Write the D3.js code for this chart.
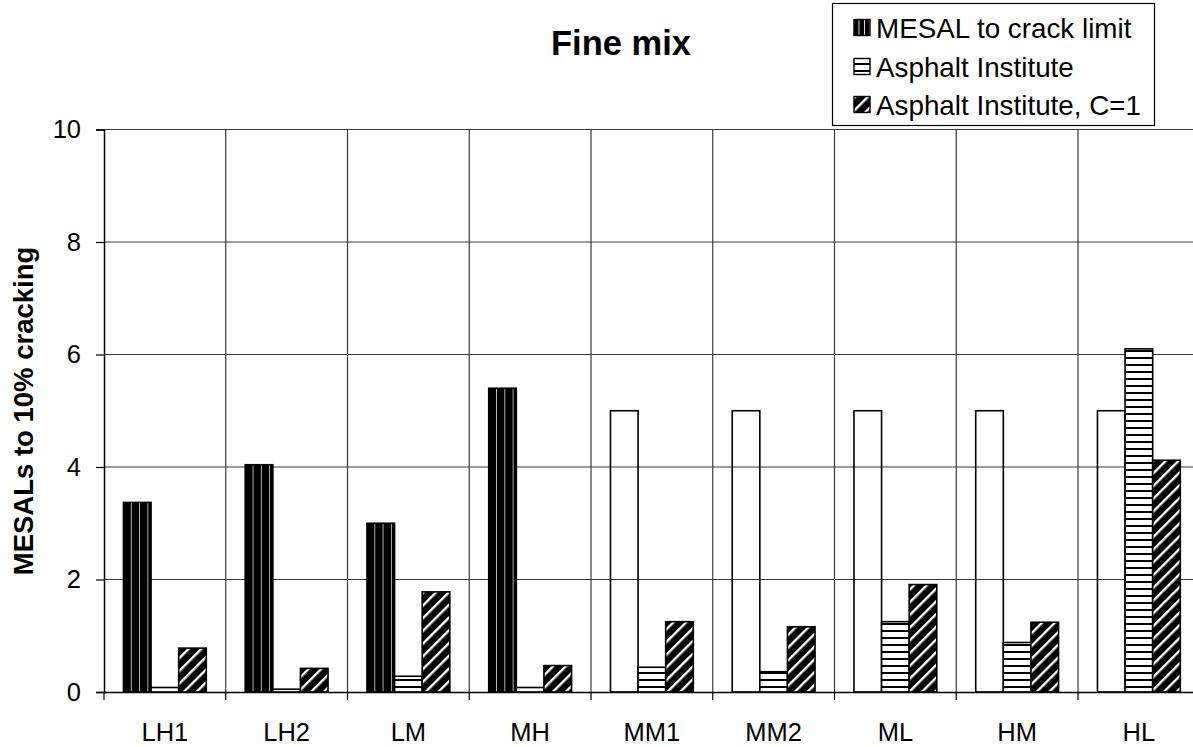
<!DOCTYPE html>
<html>
<head>
<meta charset="utf-8">
<script src="https://cdn.jsdelivr.net/npm/d3@7"></script>
<style>
  html, body { margin: 0; padding: 0; background: #fff; }
  svg { display: block; font-family: "Liberation Sans", Arial, sans-serif; }
</style>
</head>
<body>
<svg id="chart" width="1193" height="747"></svg>
<script>
// ---- data ----
const categories = ["LH1", "LH2", "LM", "MH", "MM1", "MM2", "ML", "HM", "HL"];
const mesalToCrack = [3.37, 4.04, 3.0, 5.4, null, null, null, null, null];
const mesalAssumed = [null, null, null, null, 5, 5, 5, 5, 5];
const asphaltInstitute = [0.08, 0.05, 0.28, 0.08, 0.44, 0.36, 1.25, 0.88, 6.1];
const asphaltInstituteC1 = [0.78, 0.42, 1.78, 0.47, 1.25, 1.16, 1.91, 1.24, 4.12];
const yTicks = [0, 2, 4, 6, 8, 10];
const seriesNames = ["MESAL to crack limit", "Asphalt Institute", "Asphalt Institute, C=1"];
const titleText = "Fine mix";
const yTitleText = "MESALs to 10% cracking";

// ---- layout ----
const svg = d3.select("#chart");
const plot = { left: 104, top: 129.5, bottom: 692 };
const bandW = 121.75;
plot.right = plot.left + bandW * categories.length;

const x = d3.scaleBand().domain(categories).range([plot.left, plot.right]).padding(0);
const x1 = d3.scaleBand().domain([0, 1, 2]).range([0, x.bandwidth()]).paddingInner(0).paddingOuter(0.705);
const y = d3.scaleLinear().domain([0, 10]).range([plot.bottom, plot.top]);

// ---- patterns ----
const defs = svg.append("defs");
const pV = defs.append("pattern").attr("id", "pVert").attr("patternUnits", "objectBoundingBox")
  .attr("width", 0.3).attr("height", 1);
pV.append("rect").attr("width", 40).attr("height", 1000).attr("fill", "#000");
pV.append("rect").attr("x", 7.6).attr("width", 1.6).attr("height", 1000).attr("fill", "#fff");

const pVL = defs.append("pattern").attr("id", "pVertLeg").attr("patternUnits", "objectBoundingBox")
  .attr("width", 0.34).attr("height", 1);
pVL.append("rect").attr("width", 40).attr("height", 1000).attr("fill", "#000");
pVL.append("rect").attr("x", 4.6).attr("width", 1.4).attr("height", 1000).attr("fill", "#fff");

const pH = defs.append("pattern").attr("id", "pHoriz").attr("patternUnits", "userSpaceOnUse")
  .attr("width", 7).attr("height", 7);
pH.append("rect").attr("width", 7).attr("height", 7).attr("fill", "#fff");
pH.append("rect").attr("y", 0).attr("width", 7).attr("height", 2).attr("fill", "#000");

const pD = defs.append("pattern").attr("id", "pDiag").attr("patternUnits", "userSpaceOnUse")
  .attr("width", 9).attr("height", 9).attr("patternTransform", "rotate(45)");
pD.append("rect").attr("width", 9).attr("height", 9).attr("fill", "#000");
pD.append("rect").attr("x", 6).attr("width", 2.4).attr("height", 9).attr("fill", "#fff");

// ---- gridlines ----
const grid = svg.append("g");
grid.selectAll("line.h").data(yTicks.filter(d => d > 0)).join("line")
  .attr("x1", plot.left).attr("x2", plot.right)
  .attr("y1", d => y(d)).attr("y2", d => y(d))
  .attr("stroke", "#3a3a3a").attr("stroke-width", 1.2);
const boundaries = categories.slice(1).map(c => x(c));
grid.selectAll("line.v").data(boundaries).join("line")
  .attr("x1", d => d).attr("x2", d => d)
  .attr("y1", plot.top).attr("y2", plot.bottom)
  .attr("stroke", "#3a3a3a").attr("stroke-width", 1.2);

// ---- bars ----
const bars = svg.append("g");
function drawSeries(vals, idx, fill) {
  bars.append("g").selectAll("rect")
    .data(categories.map((c, i) => ({ c, v: vals[i] })).filter(d => d.v != null))
    .join("rect")
    .attr("x", d => x(d.c) + x1(idx))
    .attr("width", x1.bandwidth())
    .attr("y", d => y(d.v))
    .attr("height", d => y(0) - y(d.v))
    .attr("fill", fill)
    .attr("stroke", "#000").attr("stroke-width", 1.6);
}
drawSeries(mesalAssumed, 0, "none");
drawSeries(mesalToCrack, 0, "url(#pVert)");
drawSeries(asphaltInstitute, 1, "url(#pHoriz)");
drawSeries(asphaltInstituteC1, 2, "url(#pDiag)");

// ---- axes ----
const yAxis = svg.append("g").attr("transform", `translate(${plot.left},0)`)
  .call(d3.axisLeft(y).tickValues(yTicks).tickSize(8).tickPadding(15).tickFormat(d3.format("d")));
yAxis.select(".domain").attr("stroke", "#000").attr("stroke-width", 1.5);
yAxis.selectAll(".tick line").attr("stroke", "#000").attr("stroke-width", 1.2);
yAxis.selectAll("text").attr("font-size", 25.5).attr("fill", "#000")
  .attr("font-family", "'Liberation Sans', Arial, sans-serif");

const xAxis = svg.append("g").attr("transform", `translate(0,${plot.bottom})`)
  .call(d3.axisBottom(x).tickSize(0).tickPadding(31));
xAxis.select(".domain").attr("stroke", "#000").attr("stroke-width", 1.5);
xAxis.selectAll("text").attr("font-size", 25.5).attr("fill", "#000")
  .attr("font-family", "'Liberation Sans', Arial, sans-serif");
xAxis.selectAll("line.bt").data([plot.left].concat(boundaries)).join("line")
  .attr("class", "bt")
  .attr("x1", d => d).attr("x2", d => d).attr("y1", 0).attr("y2", 8)
  .attr("stroke", "#000").attr("stroke-width", 1.2);

// ---- titles ----
svg.append("text").attr("x", 621).attr("y", 55).attr("text-anchor", "middle")
  .attr("font-size", 34.5).attr("font-weight", "bold").text(titleText);
svg.append("text").attr("transform", "translate(33,411) rotate(-90)").attr("text-anchor", "middle")
  .attr("font-size", 27.5).attr("font-weight", "bold").text(yTitleText);

// ---- legend ----
const leg = svg.append("g");
leg.append("rect").attr("x", 832.5).attr("y", 3.5).attr("width", 322).attr("height", 122)
  .attr("fill", "#fff").attr("stroke", "#000").attr("stroke-width", 1.2);
const legFills = ["url(#pVertLeg)", "url(#pHoriz)", "url(#pDiag)"];
const rowY = [27.5, 66.5, 104.5];
seriesNames.forEach((name, i) => {
  leg.append("rect").attr("x", 854).attr("y", rowY[i] - 8).attr("width", 16).attr("height", 16)
    .attr("fill", legFills[i]).attr("stroke", "#000").attr("stroke-width", 1.4);
  leg.append("text").attr("x", 876).attr("y", rowY[i]).attr("dy", "0.36em")
    .attr("font-size", 27.8).text(name);
});
</script>
</body>
</html>
